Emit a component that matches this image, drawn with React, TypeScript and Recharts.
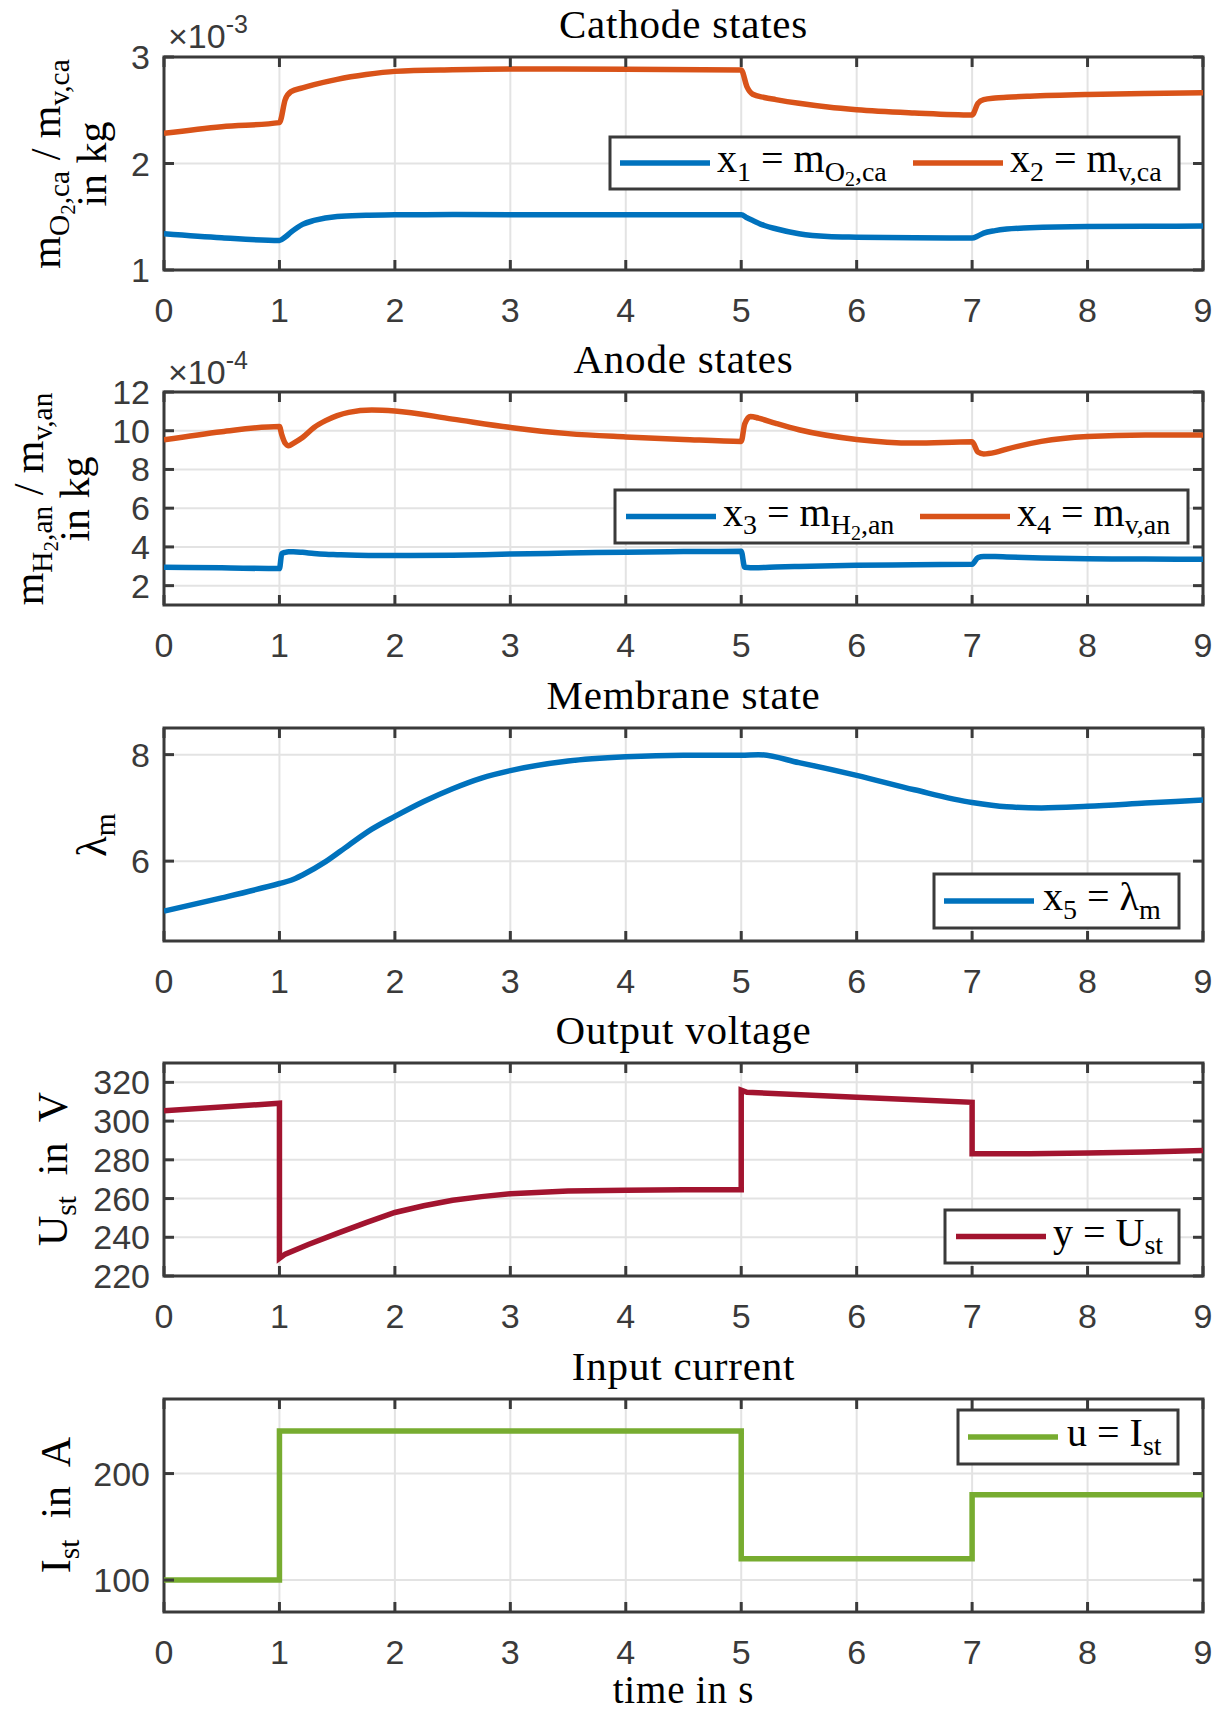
import React from "react";
import {
  LineChart,
  Line,
  XAxis,
  YAxis,
  CartesianGrid,
  ReferenceArea
} from "recharts";

// time axis (s)
const timeTicks = [0, 1, 2, 3, 4, 5, 6, 7, 8, 9];

// Cathode states, values in 1e-3 kg
const cathodeT = [0, 0.5, 1, 1.05, 1.1, 1.2, 1.3, 1.5, 1.75, 2, 2.5, 3, 4, 5, 5.05, 5.1, 5.2, 5.3, 5.5, 5.75, 6, 6.5, 7, 7.05, 7.1, 7.2, 7.3, 7.5, 8, 8.5, 9];
const x1Vals = [1.34, 1.302, 1.277, 1.31, 1.355, 1.428, 1.465, 1.503, 1.513, 1.519, 1.52, 1.519, 1.519, 1.518, 1.49, 1.465, 1.418, 1.387, 1.34, 1.314, 1.308, 1.302, 1.3, 1.32, 1.346, 1.37, 1.384, 1.396, 1.409, 1.411, 1.412];
const x2Vals = [2.283, 2.346, 2.384, 2.6, 2.675, 2.71, 2.74, 2.79, 2.835, 2.865, 2.88, 2.887, 2.885, 2.878, 2.72, 2.65, 2.62, 2.6, 2.565, 2.53, 2.505, 2.475, 2.456, 2.565, 2.6, 2.615, 2.622, 2.632, 2.648, 2.658, 2.665];

// Anode states, values in 1e-4 kg
const anodeT = [0, 0.5, 1, 1.02, 1.05, 1.08, 1.12, 1.2, 1.3, 1.4, 1.5, 1.6, 1.8, 2, 2.5, 3, 3.5, 4, 4.5, 5, 5.03, 5.08, 5.15, 5.3, 5.5, 6, 6.5, 7, 7.05, 7.1, 7.2, 7.3, 7.6, 8, 8.5, 9];
const x3Vals = [2.95, 2.92, 2.88, 3.65, 3.72, 3.75, 3.75, 3.72, 3.66, 3.62, 3.6, 3.58, 3.56, 3.55, 3.57, 3.63, 3.68, 3.73, 3.76, 3.77, 2.95, 2.93, 2.93, 2.96, 2.99, 3.05, 3.08, 3.1, 3.45, 3.5, 3.5, 3.48, 3.43, 3.39, 3.37, 3.36];
const x4Vals = [9.53, 9.95, 10.22, 9.8, 9.35, 9.22, 9.35, 9.65, 10.17, 10.52, 10.78, 10.95, 11.07, 11.02, 10.6, 10.17, 9.85, 9.68, 9.55, 9.45, 10.35, 10.74, 10.65, 10.38, 10.05, 9.55, 9.36, 9.43, 8.9, 8.8, 8.88, 9.05, 9.45, 9.7, 9.78, 9.78];

// Membrane state
const membraneT = [0, 0.5, 1, 1.1, 1.2, 1.4, 1.6, 1.8, 2, 2.25, 2.5, 2.75, 3, 3.5, 4, 4.5, 5, 5.15, 5.5, 6, 6.5, 7, 7.3, 7.6, 8, 8.5, 9];
const x5Vals = [5.06, 5.31, 5.58, 5.64, 5.74, 5.99, 6.3, 6.6, 6.84, 7.12, 7.36, 7.56, 7.7, 7.88, 7.96, 7.99, 7.99, 8.0, 7.85, 7.61, 7.34, 7.1, 7.02, 7.0, 7.03, 7.09, 7.15];

// Output voltage (V)
const voltageT = [0, 1, 1, 1.05, 1.25, 1.5, 1.75, 2, 2.25, 2.5, 2.75, 3, 3.5, 4, 4.5, 5, 5, 5.05, 6, 6.5, 7, 7, 7.5, 8, 8.5, 9];
const yVals = [305.4, 309.2, 229.1, 231.3, 236.3, 242, 247.6, 252.8, 256.3, 259.1, 261.0, 262.5, 263.9, 264.3, 264.5, 264.6, 316.0, 314.9, 312.3, 311.0, 309.7, 283.1, 283.1, 283.5, 284.0, 284.8];

// Input current (A)
const currentT = [0, 1, 1, 5, 5, 7, 7, 9];
const uVals = [100, 100, 240, 240, 120, 120, 180, 180];

const BLUE = "#0072BD";
const ORANGE = "#D95319";
const RED = "#A2142F";
const GREEN = "#77AC30";
const AXIS = "#3a3a3a";
const GRID = "#e3e3e3";
const SERIF = "'Liberation Serif', 'Times New Roman', serif";
const SANS = "'Liberation Sans', Arial, sans-serif";

const W = 1221;
const PL = 164; // plot left
const PR = 1203; // plot right
const PH = 213; // plot height
const MT = 60; // chart top margin
const XH = 60; // x axis band
const TICK_FS = 34;

const zip = (t: number[], v: number[]) => t.map((tt, i) => ({ t: tt, v: v[i] }));

type Seg = [string, number];
const LVL_DY = [0, 0.22, 0.36];
const LVL_FS = [1, 0.7, 0.5];

function Rich({ x, y, size, segs, anchor = "start", rotate = false }: { x: number; y: number; size: number; segs: Seg[]; anchor?: string; rotate?: boolean }) {
  let cur = 0;
  const spans = segs.map(([txt, lvl], i) => {
    const dy = (LVL_DY[lvl] - LVL_DY[cur]) * size;
    cur = lvl;
    return (
      <tspan key={i} dy={dy} fontSize={size * LVL_FS[lvl]}>
        {txt}
      </tspan>
    );
  });
  return (
    <text
      x={x}
      y={y}
      textAnchor={anchor as any}
      fontFamily={SERIF}
      fontSize={size}
      fill="#000"
      style={{ whiteSpace: "pre" }}
      transform={rotate ? `rotate(-90 ${x} ${y})` : undefined}
    >
      {spans}
    </text>
  );
}

const XTick = (props: any) => {
  const { x, payload } = props;
  const pb = MT + PH;
  return (
    <g>
      <line x1={x} x2={x} y1={pb} y2={pb - 10} stroke={AXIS} strokeWidth={3} />
      <line x1={x} x2={x} y1={MT} y2={MT + 10} stroke={AXIS} strokeWidth={3} />
      <text x={x} y={pb + 52} textAnchor="middle" fontFamily={SANS} fontSize={TICK_FS} fill={AXIS}>
        {payload.value}
      </text>
    </g>
  );
};

const YTick = (props: any) => {
  const { y, payload } = props;
  return (
    <g>
      <line x1={PL} x2={PL + 10} y1={y} y2={y} stroke={AXIS} strokeWidth={3} />
      <line x1={PR} x2={PR - 10} y1={y} y2={y} stroke={AXIS} strokeWidth={3} />
      <text x={150} y={y + 12} textAnchor="end" fontFamily={SANS} fontSize={TICK_FS} fill={AXIS}>
        {payload.value}
      </text>
    </g>
  );
};

type Series = { data: { t: number; v: number }[]; color: string; curve: "monotone" | "linear" };
type Panel = { top: number; domain: [number, number]; ticks: number[]; series: Series[] };

const panels: Panel[] = [
  {
    top: 57,
    domain: [1, 3],
    ticks: [1, 2, 3],
    series: [
      { data: zip(cathodeT, x1Vals), color: BLUE, curve: "monotone" },
      { data: zip(cathodeT, x2Vals), color: ORANGE, curve: "monotone" }
    ]
  },
  {
    top: 392,
    domain: [1, 12],
    ticks: [2, 4, 6, 8, 10, 12],
    series: [
      { data: zip(anodeT, x3Vals), color: BLUE, curve: "monotone" },
      { data: zip(anodeT, x4Vals), color: ORANGE, curve: "monotone" }
    ]
  },
  {
    top: 728,
    domain: [4.5, 8.5],
    ticks: [6, 8],
    series: [{ data: zip(membraneT, x5Vals), color: BLUE, curve: "monotone" }]
  },
  {
    top: 1063,
    domain: [220, 330],
    ticks: [220, 240, 260, 280, 300, 320],
    series: [{ data: zip(voltageT, yVals), color: RED, curve: "linear" }]
  },
  {
    top: 1399,
    domain: [70, 270],
    ticks: [100, 200],
    series: [{ data: zip(currentT, uVals), color: GREEN, curve: "linear" }]
  }
];

const titles = ["Cathode states", "Anode states", "Membrane state", "Output voltage", "Input current"];

function PanelChart({ p }: { p: Panel }) {
  return (
    <div style={{ position: "absolute", left: 0, top: p.top - MT }}>
      <LineChart width={W} height={MT + PH + XH} margin={{ top: MT, right: W - PR, bottom: 0, left: 0 }}>
        <CartesianGrid stroke={GRID} strokeWidth={2} />
        <XAxis
          type="number"
          dataKey="t"
          domain={[0, 9]}
          ticks={timeTicks}
          interval={0}
          height={XH}
          axisLine={false}
          tickLine={false}
          tick={XTick}
          allowDataOverflow
        />
        <YAxis
          type="number"
          domain={p.domain}
          ticks={p.ticks}
          interval={0}
          width={PL}
          axisLine={false}
          tickLine={false}
          tick={YTick}
          allowDataOverflow
        />
        {p.series.map((s, i) => (
          <Line
            key={i}
            data={s.data}
            dataKey="v"
            type={s.curve}
            stroke={s.color}
            strokeWidth={5.5}
            dot={false}
            activeDot={false}
            isAnimationActive={false}
          />
        ))}
        <ReferenceArea
          x1={0}
          x2={9}
          y1={p.domain[0]}
          y2={p.domain[1]}
          fill="none"
          fillOpacity={0}
          stroke={AXIS}
          strokeWidth={3}
          ifOverflow="visible"
        />
      </LineChart>
    </div>
  );
}

type LegendItem = { color: string; lineX: number; textX: number; segs: Seg[] };
type LegendBox = { x: number; y: number; w: number; h: number; items: LegendItem[] };

const legends: LegendBox[] = [
  {
    x: 610, y: 137, w: 569, h: 52,
    items: [
      { color: BLUE, lineX: 620, textX: 717, segs: [["x", 0], ["1", 1], [" = m", 0], ["O", 1], ["2", 2], [",ca", 1]] },
      { color: ORANGE, lineX: 913, textX: 1010, segs: [["x", 0], ["2", 1], [" = m", 0], ["v,ca", 1]] }
    ]
  },
  {
    x: 615, y: 490, w: 573, h: 53,
    items: [
      { color: BLUE, lineX: 626, textX: 723, segs: [["x", 0], ["3", 1], [" = m", 0], ["H", 1], ["2", 2], [",an", 1]] },
      { color: ORANGE, lineX: 920, textX: 1017, segs: [["x", 0], ["4", 1], [" = m", 0], ["v,an", 1]] }
    ]
  },
  {
    x: 934, y: 874, w: 245, h: 54,
    items: [{ color: BLUE, lineX: 944, textX: 1043, segs: [["x", 0], ["5", 1], [" = λ", 0], ["m", 1]] }]
  },
  {
    x: 945, y: 1210, w: 234, h: 53,
    items: [{ color: RED, lineX: 956, textX: 1053, segs: [["y = U", 0], ["st", 1]] }]
  },
  {
    x: 958, y: 1410, w: 220, h: 54,
    items: [{ color: GREEN, lineX: 968, textX: 1067, segs: [["u = I", 0], ["st", 1]] }]
  }
];

export default function App() {
  return (
    <div style={{ position: "absolute", left: 0, top: 0, width: W, height: 1713, overflow: "hidden", background: "#fff" }}>
      {panels.map((p, i) => (
        <PanelChart key={i} p={p} />
      ))}
      <svg width={W} height={1713} style={{ position: "absolute", left: 0, top: 0, pointerEvents: "none" }}>
        {panels.map((p, i) => (
          <text key={i} x={(PL + PR) / 2} y={p.top - 19} textAnchor="middle" fontFamily={SERIF} fontSize={41} letterSpacing={0.8} fill="#000">
            {titles[i]}
          </text>
        ))}

        {/* exponent multipliers */}
        <text x={168} y={48} fontFamily={SANS} fontSize={TICK_FS} fill={AXIS}>
          ×10<tspan dy={-15} fontSize={25}>-3</tspan>
        </text>
        <text x={168} y={384} fontFamily={SANS} fontSize={TICK_FS} fill={AXIS}>
          ×10<tspan dy={-15} fontSize={25}>-4</tspan>
        </text>

        {/* y axis labels */}
        <Rich x={60} y={164} size={42} rotate anchor="middle" segs={[["m", 0], ["O", 1], ["2", 2], [",ca", 1], [" / m", 0], ["v,ca", 1]]} />
        <Rich x={106} y={164} size={42} rotate anchor="middle" segs={[["in kg", 0]]} />
        <Rich x={43} y={499} size={42} rotate anchor="middle" segs={[["m", 0], ["H", 1], ["2", 2], [",an", 1], [" / m", 0], ["v,an", 1]]} />
        <Rich x={89} y={499} size={42} rotate anchor="middle" segs={[["in kg", 0]]} />
        <Rich x={106} y={835} size={42} rotate anchor="middle" segs={[["λ", 0], ["m", 1]]} />
        <Rich x={67} y={1169} size={42} rotate anchor="middle" segs={[["U", 0], ["st", 1], ["  in  V", 0]]} />
        <Rich x={70} y={1505} size={42} rotate anchor="middle" segs={[["I", 0], ["st", 1], ["  in  A", 0]]} />

        {/* x axis label */}
        <text x={(PL + PR) / 2} y={1703} textAnchor="middle" fontFamily={SERIF} fontSize={39} letterSpacing={0.8} fill="#000">
          time in s
        </text>

        {/* legends */}
        {legends.map((lg, i) => (
          <g key={i}>
            <rect x={lg.x} y={lg.y} width={lg.w} height={lg.h} fill="#fff" stroke={AXIS} strokeWidth={3} />
            {lg.items.map((it, j) => (
              <g key={j}>
                <line x1={it.lineX} x2={it.lineX + 90} y1={lg.y + lg.h / 2} y2={lg.y + lg.h / 2} stroke={it.color} strokeWidth={5.5} />
                <Rich x={it.textX} y={lg.y + lg.h / 2 + 9} size={40} segs={it.segs} />
              </g>
            ))}
          </g>
        ))}
      </svg>
    </div>
  );
}
